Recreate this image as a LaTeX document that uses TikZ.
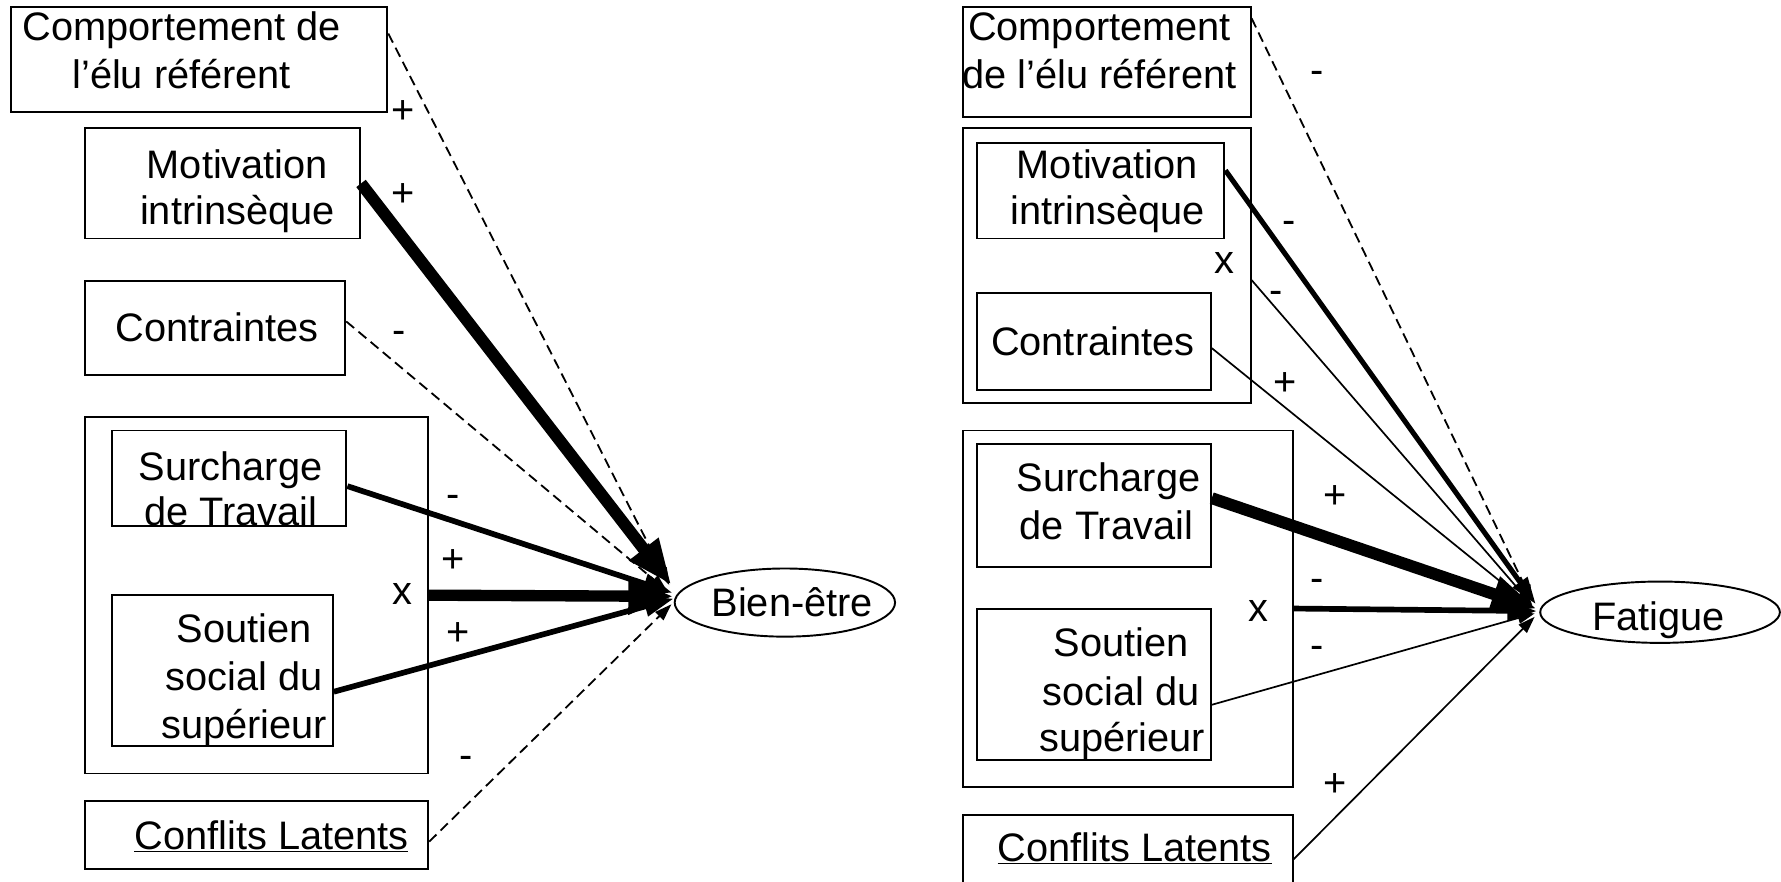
\documentclass[tikz,border=0pt]{standalone}
\usepackage{fontspec}
\setmainfont{Liberation Sans}
\usetikzlibrary{arrows.meta,shapes.geometric}
\begin{document}
\begin{tikzpicture}[x=1pt,y=-1pt,
  box/.style={draw, line width=1.7pt, inner sep=0pt, rectangle},
  oval/.style={draw, line width=1.7pt, inner sep=0pt, ellipse},
  txt/.style={inner sep=0pt, anchor=base, font=\fontsize{35}{42}\selectfont},
  cdash/.style={line width=1.6pt, dash pattern=on 9pt off 5pt, -{Triangle[length=15pt,width=10pt]}},
  cthin/.style={line width=1.5pt, -{Triangle[length=15pt,width=10pt]}},
  cmed/.style={line width=4.5pt, -{Triangle[length=24pt,width=15pt]}},
  cthick/.style={line width=5pt, -{Triangle[length=26pt,width=17pt]}},
  cheavy/.style={line width=10.5pt, -{Triangle[length=40pt,width=30pt]}},
]
\useasboundingbox (0,0) rectangle (1568,776);

% ---------------- left diagram ----------------
\node[box, minimum width=331pt, minimum height=93pt] (lcomp) at (175.5,52.5) {};
\node[box, minimum width=242pt, minimum height=97pt] (lmot) at (196,161.5) {};
\node[box, minimum width=229pt, minimum height=83pt] (lcon) at (189.5,288.5) {};
\node[box, minimum width=302pt, minimum height=314pt] (lgrp) at (226,524) {};
\node[box, minimum width=206pt, minimum height=84pt] (lsur) at (202,421) {};
\node[box, minimum width=194pt, minimum height=133pt] (lsou) at (196,590.5) {};
\node[box, minimum width=302pt, minimum height=60pt] (lcfl) at (226,735) {};
\node[oval, minimum width=194pt, minimum height=60pt] (lbe) at (691,530.5) {};

\node[txt] (tl1a) at (160,36) {Comportement de};
\node[txt] (tl1b) at (160,78) {l’élu référent};
\node[txt] (tl2a) at (209,157) {Motivation};
\node[txt] (tl2b) at (209,198) {intrinsèque};
\node[txt] (tl3) at (191,301) {Contraintes};
\node[txt] (tl4a) at (203,423) {Surcharge};
\node[txt] (tl4b) at (203,463) {de Travail};
\node[txt] (tl5a) at (215,566) {Soutien};
\node[txt] (tl5b) at (215,608) {social du};
\node[txt] (tl5c) at (215,650) {supérieur};
\node[txt] (tl6) at (239,748) {\underline{Conflits Latents}};
\node[txt] (tlbe) at (697.5,542.5) {Bien-être};
\node[txt] (tlx) at (354,532) {x};

\node[txt] (sl1) at (355,109) {+};
\node[txt] (sl2) at (355,182) {+};
\node[txt] (sl3) at (351,302.5) {-};
\node[txt] (sl4) at (399,446.5) {-};
\node[txt] (sl5) at (399,504) {+};
\node[txt] (sl6) at (403,568) {+};
\node[txt] (sl7) at (410.7,676.5) {-};

\draw[cdash] ([yshift=23pt]lcomp.east) -- ([xshift=-4pt,yshift=15.5pt]lbe.west);
\draw[cdash] ([yshift=5.5pt]lcon.east) -- ([xshift=-6pt,yshift=10.5pt]lbe.west);
\draw[cdash] ([yshift=-6pt]lcfl.east) -- ([xshift=-2pt,yshift=-1.5pt]lbe.west);
\draw[cthick] ([yshift=-7pt]lsur.east) -- ([xshift=-1pt,yshift=8.5pt]lbe.west);
\draw[cthick] ([yshift=-18.5pt]lsou.east) -- ([yshift=3.5pt]lbe.west);
\draw[cheavy, line width=10pt] (lgrp.east) -- ([yshift=5.5pt]lbe.west);
\draw[cheavy] (lmot.east) -- ([xshift=-2pt,yshift=15.5pt]lbe.west);

% ---------------- right diagram ----------------
\node[box, minimum width=253pt, minimum height=97pt] (rcomp) at (974.5,54.5) {};
\node[box, minimum width=253pt, minimum height=242pt] (rgrpa) at (974.5,234) {};
\node[box, minimum width=218pt, minimum height=84pt] (rmot) at (969,168) {};
\node[box, minimum width=206pt, minimum height=85pt] (rcon) at (963,300.5) {};
\node[box, minimum width=290pt, minimum height=313.5pt] (rgrpb) at (993,535.75) {};
\node[box, minimum width=206pt, minimum height=108pt] (rsur) at (963,445) {};
\node[box, minimum width=206pt, minimum height=133pt] (rsou) at (963,602.5) {};
\node[box, minimum width=290pt, minimum height=72pt] (rcfl) at (993,753.6) {};
\node[oval, minimum width=211pt, minimum height=54pt] (rfat) at (1461.5,539) {};

\node[txt] (tr1a) at (968,36) {Comportement};
\node[txt] (tr1b) at (968,78) {de l’élu référent};
\node[txt] (tr2a) at (975,157) {Motivation};
\node[txt] (tr2b) at (975,198) {intrinsèque};
\node[txt] (tr3) at (962,312.6) {Contraintes};
\node[txt] (tr4a) at (976,433) {Surcharge};
\node[txt] (tr4b) at (974,475.4) {de Travail};
\node[txt] (tr5a) at (987,578) {Soutien};
\node[txt] (tr5b) at (987,620.7) {social du};
\node[txt] (tr5c) at (988,662) {supérieur};
\node[txt] (tr6) at (999,758.6) {\underline{Conflits Latents}};
\node[txt] (trfat) at (1460,554.7) {Fatigue};
\node[txt] (trxa) at (1078,241) {x};
\node[txt] (trxb) at (1108,547) {x};

\node[txt] (sr1) at (1159.6,73.5) {-};
\node[txt] (sr2) at (1134.5,205.5) {-};
\node[txt] (sr3) at (1123.5,267) {-};
\node[txt] (sr4) at (1131,348) {+};
\node[txt] (sr5) at (1175.4,448) {+};
\node[txt] (sr6) at (1159.4,521) {-};
\node[txt] (sr7) at (1159.4,580) {-};
\node[txt] (sr8) at (1175.4,701) {+};

\draw[cdash] ([yshift=38.5pt]rcomp.east) -- ([xshift=-6pt,yshift=9pt]rfat.west);
\draw[cthin] ([yshift=-12.5pt]rgrpa.east) -- ([xshift=-6pt,yshift=6pt]rfat.west);
\draw[cthin] ([yshift=-6pt]rcon.east) -- ([xshift=-7pt,yshift=5pt]rfat.west);
\draw[cthin] ([yshift=-18pt]rsou.east) -- ([xshift=-4pt,yshift=-1pt]rfat.west);
\draw[cthin] ([yshift=-3pt]rcfl.east) -- ([xshift=-4pt,yshift=-4pt]rfat.west);
\draw[cmed] ([yshift=18pt]rmot.east) -- ([xshift=-3pt,yshift=7pt]rfat.west);
\draw[cthick] (rgrpb.east) -- ([xshift=-2pt,yshift=1pt]rfat.west);
\draw[cheavy] ([yshift=6.4pt]rsur.east) -- ([xshift=-2pt,yshift=3pt]rfat.west);
\end{tikzpicture}
\end{document}
